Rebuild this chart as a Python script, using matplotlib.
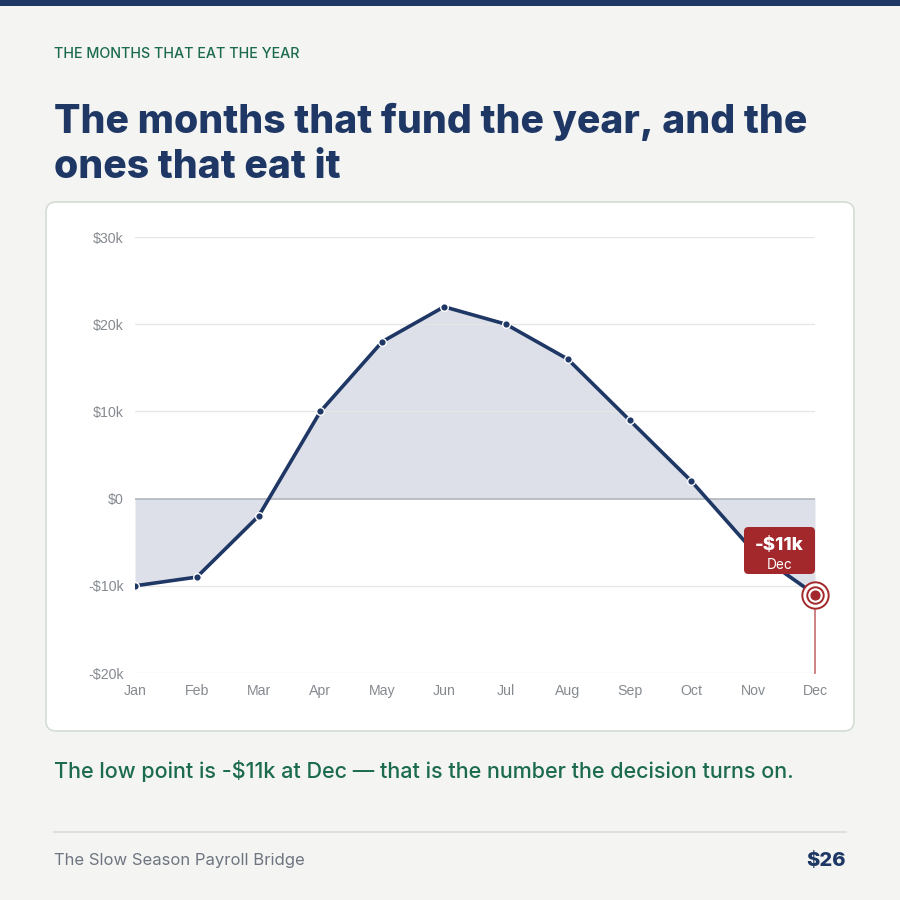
import matplotlib
matplotlib.use("Agg")
import matplotlib.pyplot as plt
from matplotlib.patches import FancyBboxPatch, Rectangle
from matplotlib.lines import Line2D

months = ["Jan", "Feb", "Mar", "Apr", "May", "Jun",
          "Jul", "Aug", "Sep", "Oct", "Nov", "Dec"]
net_k = [-10, -9, -2, 10, 18, 22, 20, 16, 9, 2, -6, -11]
y_ticks = [-20, -10, 0, 10, 20, 30]
y_labels = ["-$20k", "-$10k", "$0", "$10k", "$20k", "$30k"]

NAVY = "#1e3765"
GREEN = "#1c6b4f"
RED = "#a3282b"
BG = "#f4f5f2"
TITLE_FONT = ["Inter", "DejaVu Sans"]
BODY_FONT = ["Inter", "DejaVu Sans"]
TICK_FONT = ["Liberation Sans", "DejaVu Sans"]

W = H = 900
fig = plt.figure(figsize=(9, 9), dpi=100, facecolor=BG)


def fx(px):
    return px / W


def fy(py):
    return 1 - py / H


# top bar
fig.patches.append(Rectangle((0, fy(6)), 1, 6 / H, transform=fig.transFigure,
                             facecolor=NAVY, edgecolor="none", zorder=-2))

# card behind the axes
fig.patches.append(FancyBboxPatch((fx(46), fy(731)), fx(854) - fx(46), fy(202) - fy(731),
                                  boxstyle="round,pad=0,rounding_size=0.011",
                                  transform=fig.transFigure, facecolor="white",
                                  edgecolor="#d3dcd5", linewidth=1.2, zorder=-1))

fig.text(fx(54), fy(54), "THE MONTHS THAT EAT THE YEAR", color=GREEN,
         fontsize=10.3, fontweight="medium", family=BODY_FONT, va="center", ha="left")
fig.text(fx(54), fy(122), "The months that fund the year, and the", color=NAVY,
         fontsize=28.2, fontweight="heavy", family=TITLE_FONT, va="center", ha="left")
fig.text(fx(54), fy(167), "ones that eat it", color=NAVY,
         fontsize=28.2, fontweight="heavy", family=TITLE_FONT, va="center", ha="left")

ax = fig.add_axes([fx(135), fy(673), fx(815) - fx(135), fy(237) - fy(673)])
ax.patch.set_alpha(0)
x = list(range(len(months)))
ax.fill_between(x, net_k, 0, color="#dde0e8", linewidth=0, zorder=1)
for t in y_ticks:
    ax.axhline(t, color="#b0b6bd" if t == 0 else "#e6e6e6",
               linewidth=1.2 if t == 0 else 0.9, zorder=2)
ax.plot(x, net_k, color=NAVY, linewidth=2.6, zorder=3, solid_capstyle="round")
ax.scatter(x[:-1], net_k[:-1], s=30, color=NAVY, edgecolor="white",
           linewidth=1.0, zorder=4)

# highlight Dec low point
lo = len(months) - 1
ax.plot([lo, lo], [net_k[lo], -20], color="#c46d6f", linewidth=1.2, zorder=3,
        clip_on=False)
ax.scatter([lo], [net_k[lo]], s=360, facecolor="white", edgecolor=RED,
           linewidth=1.4, zorder=5, clip_on=False)
ax.scatter([lo], [net_k[lo]], s=140, facecolor="white", edgecolor=RED,
           linewidth=1.4, zorder=5, clip_on=False)
ax.scatter([lo], [net_k[lo]], s=40, color=RED, zorder=6, clip_on=False)

ax.set_xlim(0, 11)
ax.set_ylim(-20, 30)
ax.set_xticks(x)
ax.set_xticklabels(months)
ax.set_yticks(y_ticks)
ax.set_yticklabels(y_labels)
ax.tick_params(length=0, labelsize=10.2, labelcolor="#858a90")
ax.tick_params(axis="y", pad=8)
ax.tick_params(axis="x", pad=8)
for lab in ax.get_xticklabels() + ax.get_yticklabels():
    lab.set_family(TICK_FONT)
for s in ax.spines.values():
    s.set_visible(False)

# callout box
fig.patches.append(FancyBboxPatch((fx(744), fy(574)), fx(815) - fx(744), fy(527) - fy(574),
                                  boxstyle="round,pad=0,rounding_size=0.005",
                                  transform=fig.transFigure, facecolor=RED,
                                  edgecolor="none", zorder=10))
fig.text(fx(779.5), fy(545), "-$11k", color="white", fontsize=13.5, fontweight="heavy",
         family=BODY_FONT, ha="center", va="center", zorder=11)
fig.text(fx(779.5), fy(565), months[lo], color="white", fontsize=9.8,
         family=BODY_FONT, ha="center", va="center", zorder=11)

fig.text(fx(54), fy(771), "The low point is -$11k at Dec \u2014 that is the number the decision turns on.",
         color=GREEN, fontsize=15.5, fontweight="medium", family=BODY_FONT,
         ha="left", va="center")

fig.add_artist(Line2D([fx(54), fx(846)], [fy(832), fy(832)], color="#d8dcda",
                      linewidth=1.2, transform=fig.transFigure))
fig.text(fx(54), fy(861), "The Slow Season Payroll Bridge", color="#6e7580",
         fontsize=12, family=BODY_FONT, ha="left", va="center")
fig.text(fx(846), fy(861), "$26", color=NAVY, fontsize=14.5, fontweight="heavy",
         family=BODY_FONT, ha="right", va="center")

fig.savefig("out.png", dpi=100, facecolor=BG)
